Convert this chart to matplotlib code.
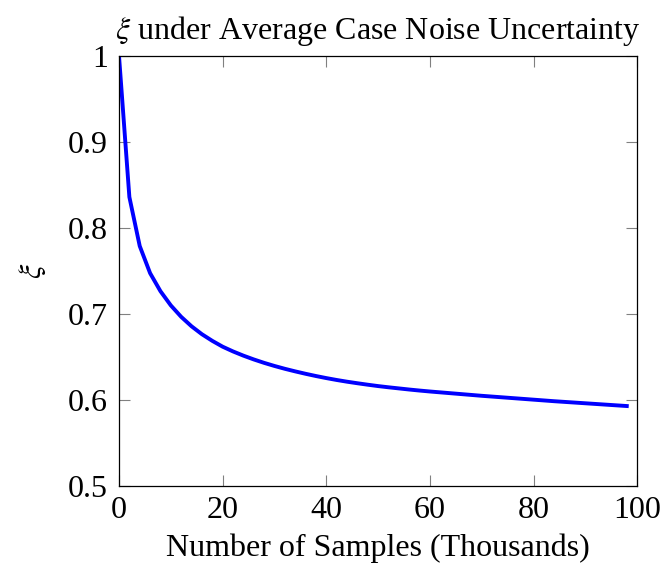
import matplotlib
matplotlib.use("Agg")
import matplotlib.pyplot as plt
from matplotlib.ticker import FixedLocator, FuncFormatter

# samples in thousands, and xi
samples = [0, 2, 4, 6, 8, 10, 12, 14, 16, 18,
           20, 22, 24, 26, 28, 30, 32, 34, 36, 38,
           40, 42, 44, 46, 48, 50, 52, 54, 56, 58,
           60, 62, 64, 66, 68, 70, 72, 74, 76, 78,
           80, 82, 84, 86, 88, 90, 92, 94, 96, 98]
xi = [1.0000, 0.8360, 0.7790, 0.7475, 0.7265, 0.7100, 0.6967, 0.6857, 0.6765, 0.6688,
      0.6620, 0.6565, 0.6516, 0.6472, 0.6432, 0.6396, 0.6363, 0.6333, 0.6305, 0.6279,
      0.6255, 0.6233, 0.6213, 0.6195, 0.6178, 0.6162, 0.6148, 0.6135, 0.6122, 0.6110,
      0.6099, 0.6089, 0.6079, 0.6069, 0.6059, 0.6049, 0.6040, 0.6031, 0.6022, 0.6013,
      0.6004, 0.5995, 0.5986, 0.5978, 0.5970, 0.5962, 0.5954, 0.5946, 0.5938, 0.5930]

xticks = [0, 20, 40, 60, 80, 100]
yticks = [0.5, 0.6, 0.7, 0.8, 0.9, 1.0]

plt.rcParams['font.family'] = ['Liberation Serif', 'DejaVu Serif']
plt.rcParams['mathtext.fontset'] = 'stix'
fs = 23

fig = plt.figure(figsize=(6.63, 5.73), dpi=100)
ax = fig.add_axes([0.1795, 0.1518, 0.7815, 0.7505])

ax.plot(samples, xi, color=(0, 0, 1), linewidth=2.8)

ax.set_xlim(0, 100)
ax.set_ylim(0.5, 1)
ax.xaxis.set_major_locator(FixedLocator(xticks))
ax.yaxis.set_major_locator(FixedLocator(yticks))
ax.yaxis.set_major_formatter(FuncFormatter(lambda v, p: '%g' % v))

ax.tick_params(direction='in', length=8, width=0.8, color='#808080',
               top=True, right=True, labelsize=fs)
ax.tick_params(axis='x', pad=7)
ax.tick_params(axis='y', pad=8)
for s in ax.spines.values():
    s.set_linewidth(0.9)

ax.set_title(r'$\xi$ under Average Case Noise Uncertainty', fontsize=fs, pad=12)
ax.set_xlabel('Number of Samples (Thousands)', fontsize=fs, labelpad=6)
ax.set_ylabel(r'$\xi$', fontsize=fs, labelpad=14)

fig.savefig('out.png', dpi=100)
